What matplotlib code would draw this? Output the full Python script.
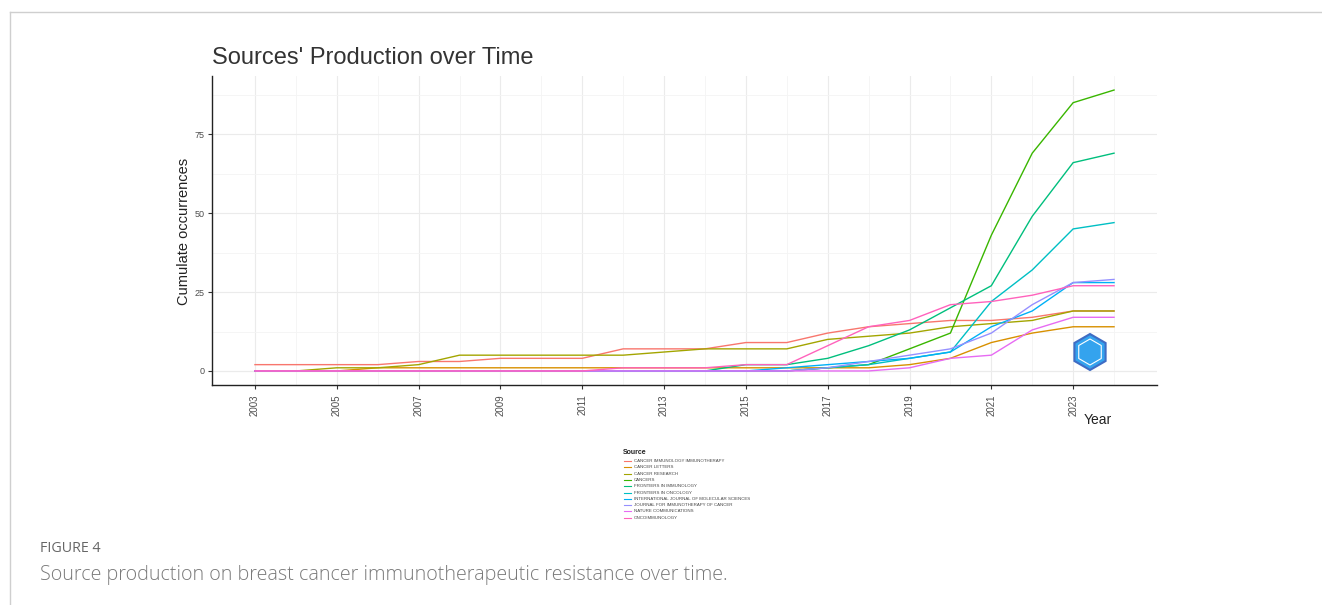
import numpy as np
import matplotlib
matplotlib.use("Agg")
import matplotlib.pyplot as plt
from matplotlib.lines import Line2D
from matplotlib.patches import RegularPolygon

plt.rcParams['font.family'] = ['Liberation Sans', 'DejaVu Sans']

years = list(range(2003, 2025))

sources = [
    "CANCER IMMUNOLOGY IMMUNOTHERAPY",
    "CANCER LETTERS",
    "CANCER RESEARCH",
    "CANCERS",
    "FRONTIERS IN IMMUNOLOGY",
    "FRONTIERS IN ONCOLOGY",
    "INTERNATIONAL JOURNAL OF MOLECULAR SCIENCES",
    "JOURNAL FOR IMMUNOTHERAPY OF CANCER",
    "NATURE COMMUNICATIONS",
    "ONCOIMMUNOLOGY",
]

colors = ["#F8766D", "#D89000", "#A3A500", "#39B600", "#00BF7D",
          "#00BFC4", "#00B0F6", "#9590FF", "#E76BF3", "#FF62BC"]

#             2003                                   2013                                   2023
cii       = [2, 2, 2, 2, 3, 3, 4, 4, 4, 7, 7, 7, 9, 9, 12, 14, 15, 16, 16, 17, 19, 19]
letters   = [0, 0, 0, 1, 1, 1, 1, 1, 1, 1, 1, 1, 1, 1, 1, 1, 2, 4, 9, 12, 14, 14]
research  = [0, 0, 1, 1, 2, 5, 5, 5, 5, 5, 6, 7, 7, 7, 10, 11, 12, 14, 15, 16, 19, 19]
cancers   = [0, 0, 0, 0, 0, 0, 0, 0, 0, 0, 0, 0, 0, 0, 1, 2, 7, 12, 43, 69, 85, 89]
front_imm = [0, 0, 0, 0, 0, 0, 0, 0, 0, 0, 0, 0, 2, 2, 4, 8, 13, 20, 27, 49, 66, 69]
front_onc = [0, 0, 0, 0, 0, 0, 0, 0, 0, 0, 0, 0, 0, 0, 1, 2, 4, 6, 22, 32, 45, 47]
ijms      = [0, 0, 0, 0, 0, 0, 0, 0, 0, 0, 0, 0, 0, 1, 2, 3, 4, 6, 14, 19, 28, 28]
jitc      = [0, 0, 0, 0, 0, 0, 0, 0, 0, 0, 0, 0, 0, 0, 1, 3, 5, 7, 12, 21, 28, 29]
nat_comm  = [0, 0, 0, 0, 0, 0, 0, 0, 0, 0, 0, 0, 0, 0, 0, 0, 1, 4, 5, 13, 17, 17]
oncoimm   = [0, 0, 0, 0, 0, 0, 0, 0, 0, 1, 1, 1, 2, 2, 8, 14, 16, 21, 22, 24, 27, 27]

series = [cii, letters, research, cancers, front_imm, front_onc, ijms, jitc, nat_comm, oncoimm]

W, H = 1322, 605
fig = plt.figure(figsize=(W / 100, H / 100), dpi=100)

# light frame of the page
fig.add_artist(Line2D([10 / W, 1], [1 - 12 / H, 1 - 12 / H], color="#cfcfcf", lw=1))
fig.add_artist(Line2D([10 / W, 10 / W], [0, 1 - 12 / H], color="#cfcfcf", lw=1))

ax = fig.add_axes([212 / W, 1 - 385 / H, 945 / W, 309 / H])

for vals, c in zip(series, colors):
    ax.plot(years, vals, color=c, lw=1.0)

ax.set_xlim(2001.95, 2025.05)
ax.set_ylim(-4.45, 93.45)
ax.set_xticks(range(2003, 2024, 2))
ax.set_xticks(range(2004, 2025, 2), minor=True)
ax.set_yticks([0, 25, 50, 75])
ax.set_yticks([12.5, 37.5, 62.5, 87.5], minor=True)
ax.grid(which="major", color="#EBEBEB", lw=0.8)
ax.grid(which="minor", color="#F4F4F4", lw=0.6)
ax.axhline(0, color="#DDDDDD", lw=0.8, zorder=0.5)
ax.set_axisbelow(True)
for s in ["top", "right"]:
    ax.spines[s].set_visible(False)
for s in ["left", "bottom"]:
    ax.spines[s].set_color("#222222")
    ax.spines[s].set_linewidth(1.0)
ax.tick_params(axis="x", which="major", labelrotation=90, labelsize=7,
               labelcolor="#4D4D4D", length=3, color="#333333")
ax.tick_params(axis="y", which="major", labelsize=6.5, labelcolor="#4D4D4D",
               length=3, color="#333333", pad=2.5)
ax.tick_params(which="minor", length=0)

fig.text(212 / W, 1 - 58 / H, "Sources' Production over Time", fontsize=17,
         color="#333333", ha="left", va="center")
fig.text(184 / W, 1 - 231 / H, "Cumulate occurrences", fontsize=10.5,
         rotation=90, ha="center", va="center", color="#222222")
fig.text(1098 / W, 1 - 420 / H, "Year", fontsize=10, ha="center",
         va="center", color="#222222")

# legend below the plot
fig.text(623 / W, 1 - 452 / H, "Source", fontsize=5, fontweight="bold",
         ha="left", va="center", color="#222222")
for i, (name, c) in enumerate(zip(sources, colors)):
    yy = 1 - (461 + 6.3 * i) / H
    fig.add_artist(Line2D([624 / W, 631 / W], [yy, yy], color=c, lw=0.8))
    fig.text(634 / W, yy, name, fontsize=3.2, ha="left", va="center",
             color="#444444")

# small hexagon badge
hexb = RegularPolygon((1090, H - 352), numVertices=6, radius=18,
                      facecolor="#34A3EE", edgecolor="#3F6CC4", lw=1.5,
                      transform=None, zorder=5)
fig.add_artist(hexb)
hexi = RegularPolygon((1090, H - 352), numVertices=6, radius=13,
                      facecolor="none", edgecolor="white", lw=0.8,
                      transform=None, zorder=6)
fig.add_artist(hexi)

fig.text(40 / W, 1 - 548 / H, "FIGURE 4", fontsize=10.3, color="#666666",
         family=["Open Sans", "DejaVu Sans"], ha="left", va="center")
fig.text(40 / W, 1 - 575 / H,
         "Source production on breast cancer immunotherapeutic resistance over time.",
         fontsize=14.2, color="#7a7a7a", family=["Open Sans", "DejaVu Sans"],
         fontweight="light", ha="left", va="center")

fig.savefig("out.png", dpi=100)
